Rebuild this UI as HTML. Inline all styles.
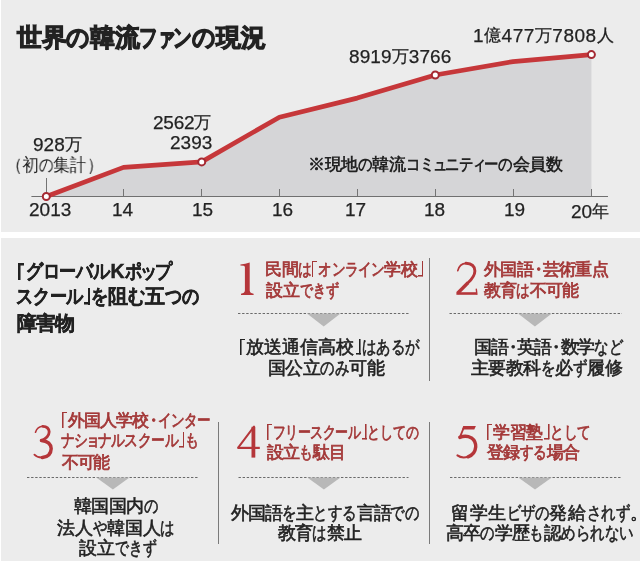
<!DOCTYPE html>
<html><head><meta charset="utf-8">
<style>
html,body{margin:0;padding:0;background:#fff;}
body{width:641px;height:564px;position:relative;overflow:hidden;font-family:"Liberation Sans",sans-serif;color:#222;}
.box{position:absolute;background:#ececec;}
.t{will-change:transform;position:absolute;white-space:nowrap;line-height:1;transform-origin:0 0;}
.lb,.rb{display:inline-block;width:0.4em;height:1em;position:relative;vertical-align:-0.14em;color:transparent;letter-spacing:0}.lb::before,.rb::before{content:"";position:absolute;top:0.08em;width:0.3em;height:0.88em}.lb::before{left:0.04em;background:linear-gradient(var(--c),var(--c)) left top/var(--bw) 100% no-repeat,linear-gradient(var(--c),var(--c)) left top/100% var(--bw) no-repeat}.rb::before{right:0.04em;background:linear-gradient(var(--c),var(--c)) right bottom/var(--bw) 100% no-repeat,linear-gradient(var(--c),var(--c)) right bottom/100% var(--bw) no-repeat}.lp{margin-left:-0.6em;margin-right:0.02em}.rp{margin-left:0.05em;margin-right:-0.6em}.dt{margin-left:-0.2em;margin-right:-0.2em}.mr{margin-right:-0.4em}.cj{font-size:17px;position:relative;top:-1.4px}.k,.h,.ks{display:inline-block;transform-origin:0 50%;letter-spacing:0}.h{transform:scaleX(var(--rh,var(--r)));margin-right:calc((var(--rh,var(--r)) - 1)*1em)}.k{transform:scaleX(var(--r));margin-right:calc((var(--r) - 1.023)*1em)}.ks{transform:scaleX(var(--r));margin-left:-0.08em;margin-right:calc((var(--r) - 1.023 - 0.12)*1em)}
svg{position:absolute;left:0;top:0;}
</style></head><body>
<div class="box" style="left:1px;top:0;width:639px;height:232px"></div>
<div class="box" style="left:1px;top:238px;width:639px;height:323px"></div>
<svg width="641" height="564" viewBox="0 0 641 564">
  <polygon points="46.3,196.5 123.5,167.4 201.7,161.9 279.4,117.2 357.2,98.1 435.3,75 513,61.6 591.4,54.6 591.4,196.5" fill="#d5d5d7"/>
  <line x1="31.4" y1="196.5" x2="608" y2="196.5" stroke="#707070" stroke-width="1"/>
  <g stroke="#747474" stroke-width="1">
    <line x1="46.5" y1="178" x2="46.5" y2="196"/>
    <line x1="123.5" y1="189" x2="123.5" y2="196"/>
    <line x1="201.5" y1="189" x2="201.5" y2="196"/>
    <line x1="279.5" y1="189" x2="279.5" y2="196"/>
    <line x1="357.5" y1="189" x2="357.5" y2="196"/>
    <line x1="435.5" y1="189" x2="435.5" y2="196"/>
    <line x1="513.5" y1="189" x2="513.5" y2="196"/>
    <line x1="591.5" y1="189" x2="591.5" y2="196"/>
  </g>
  <polyline points="46.3,196.5 123.5,167.4 201.7,161.9 279.4,117.2 357.2,98.1 435.3,75 513,61.6 591.4,54.6" fill="none" stroke="#c6373a" stroke-width="4.7" stroke-linejoin="round"/>
  <g fill="#fff" stroke="#a52a33" stroke-width="2">
    <circle cx="46.3" cy="196.5" r="3.5"/>
    <circle cx="201.7" cy="161.9" r="3.5"/>
    <circle cx="435.3" cy="75" r="3.5"/>
    <circle cx="591.4" cy="54.6" r="3.5"/>
  </g>
  <g stroke="#7a7a7a" stroke-width="1">
    <line x1="429.5" y1="258" x2="429.5" y2="381"/>
    <line x1="218.5" y1="422" x2="218.5" y2="544"/>
    <line x1="429.5" y1="422" x2="429.5" y2="544"/>
  </g>
  <g stroke="#6a6a6a" stroke-width="1" stroke-dasharray="2.4,1.7">
    <line x1="238" y1="313.5" x2="409" y2="313.5"/>
    <line x1="449.5" y1="313.5" x2="622" y2="313.5"/>
    <line x1="27" y1="477.5" x2="199" y2="477.5"/>
    <line x1="238.5" y1="477.5" x2="408.5" y2="477.5"/>
    <line x1="450" y1="477.5" x2="621" y2="477.5"/>
  </g>
  <g fill="#b8b8b8">
    <polygon points="307,313.5 340.5,313.5 323.7,326.5"/>
    <polygon points="518,313.5 551.8,313.5 534.9,326.5"/>
    <polygon points="96.3,477.5 129.5,477.5 112.9,489.6"/>
    <polygon points="307.3,477.5 340.5,477.5 323.9,489.6"/>
    <polygon points="518.3,477.5 551.8,477.5 535,489.6"/>
  </g>
  <path fill="#b5363a" d="M249.7,262.6 L249.7,290.6 Q249.9,293.3 253.6,293.7 L253.6,295.1 L241,295.1 L241,293.7 Q244.7,293.3 244.9,290.6 L244.9,267 Q244.6,265.6 240.4,265.6 L240.4,264.6 Q245.5,264.2 249.7,262.6 Z"/>
  <g fill="none" stroke="#b5363a" stroke-linecap="round">
    <path d="M457.8,270.6 Q459.6,263.4 466,263.3" stroke-width="1.7"/>
    <path d="M466,263.3 Q474.6,263.5 474.9,271 Q474.8,276.5 468,282.8" stroke-width="2.9"/>
    <path d="M468,282.8 L457.6,293.2" stroke-width="3.4" stroke-linecap="butt"/>
    <path d="M456.4,293.5 L476.6,293.5" stroke-width="2.6" stroke-linecap="butt"/>
    <path d="M476.3,289.2 L476.9,294.3" stroke-width="1.4"/>
    <path d="M35.5,432.2 Q37.4,426.6 42.8,426.3" stroke-width="1.6"/>
    <path d="M42.8,426.3 Q48.8,426.5 49.2,431.8 Q49,437.6 41.4,440.5" stroke-width="2.8"/>
    <path d="M41.4,440.5 Q50.9,441.6 51.2,448.6 Q50.9,456.6 42.4,457.5" stroke-width="3.4"/>
    <path d="M42.4,457.5 Q37,457.7 34.4,454.7" stroke-width="1.8"/>
    <path d="M253.4,426.8 L253.4,457.6" stroke-width="3.8" stroke-linecap="butt"/>
    <path d="M254,426.6 L238.2,447.6" stroke-width="2"/>
    <path d="M237.6,447.9 L259.8,447.9" stroke-width="2.2" stroke-linecap="butt"/>
    <path d="M463.6,428.2 L459.8,437.4" stroke-width="1.8"/>
    <path d="M459.8,437.4 Q466,434.9 471.5,437.9 Q475.9,441 475.7,447 Q475,454.5 468,456.8" stroke-width="3.4"/>
    <path d="M468,456.8 Q461.5,458.5 457.4,455.4" stroke-width="2"/>
  </g>
  <polygon fill="#b5363a" points="463.2,426 475.9,426 474.3,429.5 462.1,429.5"/>
</svg>

<div class="t" style="left:17.1px;top:26.4px;color:#222;font-family:'Liberation Sans',sans-serif;font-size:24.5px;font-weight:bold;letter-spacing:-0.44px;transform:scaleX(1.0);--r:0.75;--bw:0.13em;--c:#222;-webkit-text-stroke:1.1px currentColor"><span style="--rh:0.92">世界<span class="h">の</span>韓流<span class="k">フ</span><span class="ks">ァ</span><span class="k">ン</span><span class="h">の</span>現況</span></div>
<div class="t" style="left:33.1px;top:135.1px;color:#222;font-family:'Liberation Sans',sans-serif;font-size:19px;font-weight:normal;letter-spacing:0.03px;transform:scaleX(1.0);--r:1;--bw:0.09em;--c:#222;-webkit-text-stroke:0.25px currentColor">928<span class="cj">万</span></div>
<div class="t" style="left:15px;top:156.8px;color:#222;font-family:'Liberation Sans',sans-serif;font-size:17.5px;font-weight:normal;letter-spacing:0.0px;transform:scaleX(0.912);--r:0.9;--bw:0.09em;--c:#222"><span class="lp">（</span>初<span class="h">の</span>集計<span class="rp">）</span></div>
<div class="t" style="left:152.5px;top:112.7px;color:#222;font-family:'Liberation Sans',sans-serif;font-size:19px;font-weight:normal;letter-spacing:-0.2px;transform:scaleX(1.0);--r:1;--bw:0.09em;--c:#222;-webkit-text-stroke:0.25px currentColor">2562<span class="cj">万</span></div>
<div class="t" style="left:169.6px;top:133.2px;color:#222;font-family:'Liberation Sans',sans-serif;font-size:19px;font-weight:normal;letter-spacing:0.0px;transform:scaleX(1.0);--r:1;--bw:0.09em;--c:#222;-webkit-text-stroke:0.25px currentColor">2393</div>
<div class="t" style="left:349.3px;top:46.8px;color:#222;font-family:'Liberation Sans',sans-serif;font-size:19px;font-weight:normal;letter-spacing:0.09px;transform:scaleX(1.0);--r:1;--bw:0.09em;--c:#222;-webkit-text-stroke:0.25px currentColor">8919<span class="cj">万</span>3766</div>
<div class="t" style="left:473.2px;top:26.1px;color:#222;font-family:'Liberation Sans',sans-serif;font-size:19px;font-weight:normal;letter-spacing:0.51px;transform:scaleX(1.0);--r:1;--bw:0.09em;--c:#222;-webkit-text-stroke:0.25px currentColor">1<span class="cj">億</span>477<span class="cj">万</span>7808<span class="cj">人</span></div>
<div class="t" style="left:307.9px;top:155.5px;color:#222;font-family:'Liberation Sans',sans-serif;font-size:16.5px;font-weight:bold;letter-spacing:-0.39px;transform:scaleX(1.0);--r:0.85;--bw:0.13em;--c:#222">※現地<span class="h">の</span>韓流<span class="k">コ</span><span class="k">ミ</span><span class="ks">ュ</span><span class="k">ニ</span><span class="k">テ</span><span class="ks">ィ</span><span class="k">ー</span><span class="h">の</span>会員数</div>
<div class="t" style="left:28.5px;top:200.4px;color:#222;font-family:'Liberation Sans',sans-serif;font-size:19px;font-weight:normal;letter-spacing:0.0px;transform:scaleX(1.0);--r:1;--bw:0.09em;--c:#222;-webkit-text-stroke:0.25px currentColor">2013</div>
<div class="t" style="left:112.0px;top:200.4px;color:#222;font-family:'Liberation Sans',sans-serif;font-size:19px;font-weight:normal;letter-spacing:0.0px;transform:scaleX(1.0);--r:1;--bw:0.09em;--c:#222;-webkit-text-stroke:0.25px currentColor">14</div>
<div class="t" style="left:192.2px;top:200.4px;color:#222;font-family:'Liberation Sans',sans-serif;font-size:19px;font-weight:normal;letter-spacing:0.0px;transform:scaleX(1.0);--r:1;--bw:0.09em;--c:#222;-webkit-text-stroke:0.25px currentColor">15</div>
<div class="t" style="left:271.5px;top:200.4px;color:#222;font-family:'Liberation Sans',sans-serif;font-size:19px;font-weight:normal;letter-spacing:0.0px;transform:scaleX(1.0);--r:1;--bw:0.09em;--c:#222;-webkit-text-stroke:0.25px currentColor">16</div>
<div class="t" style="left:345.0px;top:200.4px;color:#222;font-family:'Liberation Sans',sans-serif;font-size:19px;font-weight:normal;letter-spacing:0.0px;transform:scaleX(1.0);--r:1;--bw:0.09em;--c:#222;-webkit-text-stroke:0.25px currentColor">17</div>
<div class="t" style="left:424.4px;top:200.4px;color:#222;font-family:'Liberation Sans',sans-serif;font-size:19px;font-weight:normal;letter-spacing:0.0px;transform:scaleX(1.0);--r:1;--bw:0.09em;--c:#222;-webkit-text-stroke:0.25px currentColor">18</div>
<div class="t" style="left:504.0px;top:200.4px;color:#222;font-family:'Liberation Sans',sans-serif;font-size:19px;font-weight:normal;letter-spacing:0.0px;transform:scaleX(1.0);--r:1;--bw:0.09em;--c:#222;-webkit-text-stroke:0.25px currentColor">19</div>
<div class="t" style="left:570.6px;top:201.6px;color:#222;font-family:'Liberation Sans',sans-serif;font-size:19px;font-weight:normal;letter-spacing:0.0px;transform:scaleX(1.0);--r:1;--bw:0.09em;--c:#222;-webkit-text-stroke:0.25px currentColor">20<span class="cj">年</span></div>
<div class="t" style="left:17px;top:261.3px;color:#222;font-family:'Liberation Sans',sans-serif;font-size:19.5px;font-weight:bold;letter-spacing:0.0px;transform:scaleX(1.0);--r:0.855;--bw:0.13em;--c:#222;-webkit-text-stroke:0.45px currentColor"><span class="lb" style="margin-right:0.05em"></span><span class="k">グ</span><span class="k">ロ</span><span class="k">ー</span><span class="k">バ</span><span class="k">ル</span><span style="margin:0 0.03em 0 0.05em">K</span><span class="k">ポ</span><span class="ks">ッ</span><span class="k">プ</span></div>
<div class="t" style="left:15.6px;top:285.8px;color:#222;font-family:'Liberation Sans',sans-serif;font-size:19.5px;font-weight:bold;letter-spacing:0.0px;transform:scaleX(1.0);--r:0.856;--bw:0.13em;--c:#222;-webkit-text-stroke:0.45px currentColor"><span class="k">ス</span><span class="k">ク</span><span class="k">ー</span><span class="k">ル</span><span class="rb"></span><span class="h">を</span>阻<span class="h">む</span>五<span class="h">つ</span><span class="h">の</span></div>
<div class="t" style="left:16.9px;top:314.0px;color:#222;font-family:'Liberation Sans',sans-serif;font-size:19.5px;font-weight:bold;letter-spacing:-0.9px;transform:scaleX(1.0);--r:0.88;--bw:0.13em;--c:#222;-webkit-text-stroke:0.45px currentColor">障害物</div>
<div class="t" style="left:264.5px;top:260.1px;color:#a33838;font-family:'Liberation Sans',sans-serif;font-size:17.3px;font-weight:normal;letter-spacing:-0.5px;transform:scaleX(1.0);--r:0.8;--bw:0.09em;--c:#a33838;-webkit-text-stroke:0.75px currentColor">民間<span class="h">は</span><span class="lb"></span><span class="k">オ</span><span class="k">ン</span><span class="k">ラ</span><span class="k">イ</span><span class="k">ン</span>学校<span class="rb"></span></div>
<div class="t" style="left:265.5px;top:281.9px;color:#a33838;font-family:'Liberation Sans',sans-serif;font-size:17.3px;font-weight:normal;letter-spacing:0.0px;transform:scaleX(1.0);--r:0.766;--bw:0.09em;--c:#a33838;-webkit-text-stroke:0.75px currentColor">設立<span class="h">で</span><span class="h">き</span><span class="h">ず</span></div>
<div class="t" style="left:238.8px;top:338.2px;color:#222;font-family:'Liberation Sans',sans-serif;font-size:17.5px;font-weight:normal;letter-spacing:0.09px;transform:scaleX(1.0);--r:0.8;--bw:0.09em;--c:#222;-webkit-text-stroke:0.6px currentColor"><span class="lb"></span>放送通信高校<span class="rb"></span><span class="h">は</span><span class="h">あ</span><span class="h">る</span><span class="h">が</span></div>
<div class="t" style="left:267.7px;top:360.2px;color:#222;font-family:'Liberation Sans',sans-serif;font-size:17.5px;font-weight:normal;letter-spacing:-0.51px;transform:scaleX(1.0);--r:0.8;--bw:0.09em;--c:#222;-webkit-text-stroke:0.6px currentColor">国公立<span class="h">の</span><span class="h">み</span>可能</div>
<div class="t" style="left:483.9px;top:260.9px;color:#a33838;font-family:'Liberation Sans',sans-serif;font-size:17.3px;font-weight:normal;letter-spacing:-0.61px;transform:scaleX(1.0);--r:0.8;--bw:0.09em;--c:#a33838;-webkit-text-stroke:0.75px currentColor">外国語<span class="dt">・</span>芸術重点</div>
<div class="t" style="left:483.9px;top:282.0px;color:#a33838;font-family:'Liberation Sans',sans-serif;font-size:17.3px;font-weight:normal;letter-spacing:-0.8px;transform:scaleX(1.0);--r:0.8;--bw:0.09em;--c:#a33838;-webkit-text-stroke:0.75px currentColor">教育<span class="h">は</span>不可能</div>
<div class="t" style="left:473.5px;top:338.5px;color:#222;font-family:'Liberation Sans',sans-serif;font-size:17.5px;font-weight:normal;letter-spacing:-1.23px;transform:scaleX(1.0);--r:0.8;--bw:0.09em;--c:#222;-webkit-text-stroke:0.6px currentColor">国語<span class="dt">・</span>英語<span class="dt">・</span>数学<span class="h">な</span><span class="h">ど</span></div>
<div class="t" style="left:471.4px;top:359.5px;color:#222;font-family:'Liberation Sans',sans-serif;font-size:17.5px;font-weight:normal;letter-spacing:-0.58px;transform:scaleX(1.0);--r:0.8;--bw:0.09em;--c:#222;-webkit-text-stroke:0.6px currentColor">主要教科<span class="h">を</span>必<span class="h">ず</span>履修</div>
<div class="t" style="left:61.1px;top:410.8px;color:#a33838;font-family:'Liberation Sans',sans-serif;font-size:17.3px;font-weight:normal;letter-spacing:-0.9px;transform:scaleX(1.0);--r:0.8;--bw:0.09em;--c:#a33838;-webkit-text-stroke:0.75px currentColor"><span class="lb"></span>外国人学校<span class="dt">・</span><span class="k">イ</span><span class="k">ン</span><span class="k">タ</span><span class="k">ー</span></div>
<div class="t" style="left:61.4px;top:431.1px;color:#a33838;font-family:'Liberation Sans',sans-serif;font-size:17.3px;font-weight:normal;letter-spacing:0.0px;transform:scaleX(1.0);--r:0.813;--bw:0.09em;--c:#a33838;-webkit-text-stroke:0.75px currentColor"><span class="k">ナ</span><span class="k">シ</span><span class="ks">ョ</span><span class="k">ナ</span><span class="k">ル</span><span class="k">ス</span><span class="k">ク</span><span class="k">ー</span><span class="k">ル</span><span class="rb"></span><span class="h">も</span></div>
<div class="t" style="left:61.9px;top:453.9px;color:#a33838;font-family:'Liberation Sans',sans-serif;font-size:17.3px;font-weight:normal;letter-spacing:-1.4px;transform:scaleX(1.0);--r:0.8;--bw:0.09em;--c:#a33838;-webkit-text-stroke:0.75px currentColor">不可能</div>
<div class="t" style="left:74px;top:498.0px;color:#222;font-family:'Liberation Sans',sans-serif;font-size:17.5px;font-weight:normal;letter-spacing:-0.55px;transform:scaleX(1.0);--r:0.8;--bw:0.09em;--c:#222;-webkit-text-stroke:0.6px currentColor">韓国国内<span class="h">の</span></div>
<div class="t" style="left:57.2px;top:519.7px;color:#222;font-family:'Liberation Sans',sans-serif;font-size:17.5px;font-weight:normal;letter-spacing:-0.22px;transform:scaleX(1.0);--r:0.8;--bw:0.09em;--c:#222;-webkit-text-stroke:0.6px currentColor">法人<span class="h">や</span>韓国人<span class="h">は</span></div>
<div class="t" style="left:78.5px;top:539.7px;color:#222;font-family:'Liberation Sans',sans-serif;font-size:17.5px;font-weight:normal;letter-spacing:0.0px;transform:scaleX(1.0);--r:0.767;--bw:0.09em;--c:#222;-webkit-text-stroke:0.6px currentColor">設立<span class="h">で</span><span class="h">き</span><span class="h">ず</span></div>
<div class="t" style="left:266px;top:423.0px;color:#a33838;font-family:'Liberation Sans',sans-serif;font-size:17.3px;font-weight:normal;letter-spacing:0.0px;transform:scaleX(1.0);--r:0.763;--bw:0.09em;--c:#a33838;-webkit-text-stroke:0.75px currentColor"><span class="lb"></span><span class="k">フ</span><span class="k">リ</span><span class="k">ー</span><span class="k">ス</span><span class="k">ク</span><span class="k">ー</span><span class="k">ル</span><span class="rb"></span><span class="h">と</span><span class="h">し</span><span class="h">て</span><span class="h">の</span></div>
<div class="t" style="left:267px;top:443.8px;color:#a33838;font-family:'Liberation Sans',sans-serif;font-size:17.3px;font-weight:normal;letter-spacing:-0.91px;transform:scaleX(1.0);--r:0.8;--bw:0.09em;--c:#a33838;-webkit-text-stroke:0.75px currentColor">設立<span class="h">も</span>駄目</div>
<div class="t" style="left:230.8px;top:504.7px;color:#222;font-family:'Liberation Sans',sans-serif;font-size:17.5px;font-weight:normal;letter-spacing:-1.1px;transform:scaleX(1.0);--r:0.8;--bw:0.09em;--c:#222;-webkit-text-stroke:0.6px currentColor">外国語<span class="h">を</span>主<span class="h">と</span><span class="h">す</span><span class="h">る</span>言語<span class="h">で</span><span class="h">の</span></div>
<div class="t" style="left:278.2px;top:525.3px;color:#222;font-family:'Liberation Sans',sans-serif;font-size:17.5px;font-weight:normal;letter-spacing:-0.79px;transform:scaleX(1.0);--r:0.8;--bw:0.09em;--c:#222;-webkit-text-stroke:0.6px currentColor">教育<span class="h">は</span>禁止</div>
<div class="t" style="left:486.3px;top:423.0px;color:#a33838;font-family:'Liberation Sans',sans-serif;font-size:17.3px;font-weight:normal;letter-spacing:-0.21px;transform:scaleX(1.0);--r:0.8;--bw:0.09em;--c:#a33838;-webkit-text-stroke:0.75px currentColor"><span class="lb"></span>学習塾<span class="rb"></span><span class="h">と</span><span class="h">し</span><span class="h">て</span></div>
<div class="t" style="left:487.3px;top:443.7px;color:#a33838;font-family:'Liberation Sans',sans-serif;font-size:17.3px;font-weight:normal;letter-spacing:-0.63px;transform:scaleX(1.0);--r:0.8;--bw:0.09em;--c:#a33838;-webkit-text-stroke:0.75px currentColor">登録<span class="h">す</span><span class="h">る</span>場合</div>
<div class="t" style="left:450.7px;top:504.5px;color:#222;font-family:'Liberation Sans',sans-serif;font-size:17.5px;font-weight:normal;letter-spacing:0.56px;transform:scaleX(1.0);--r:0.8;--bw:0.09em;--c:#222;-webkit-text-stroke:0.6px currentColor">留学生<span class="k">ビ</span><span class="k">ザ</span><span class="h">の</span>発給<span class="h">さ</span><span class="h">れ</span><span class="h">ず</span><span class="mr">。</span></div>
<div class="t" style="left:446.4px;top:525.4px;color:#222;font-family:'Liberation Sans',sans-serif;font-size:17.5px;font-weight:normal;letter-spacing:-0.8px;transform:scaleX(1.0);--r:0.8;--bw:0.09em;--c:#222;-webkit-text-stroke:0.6px currentColor">高卒<span class="h">の</span>学歴<span class="h">も</span>認<span class="h">め</span><span class="h">ら</span><span class="h">れ</span><span class="h">な</span><span class="h">い</span></div>
</body></html>
